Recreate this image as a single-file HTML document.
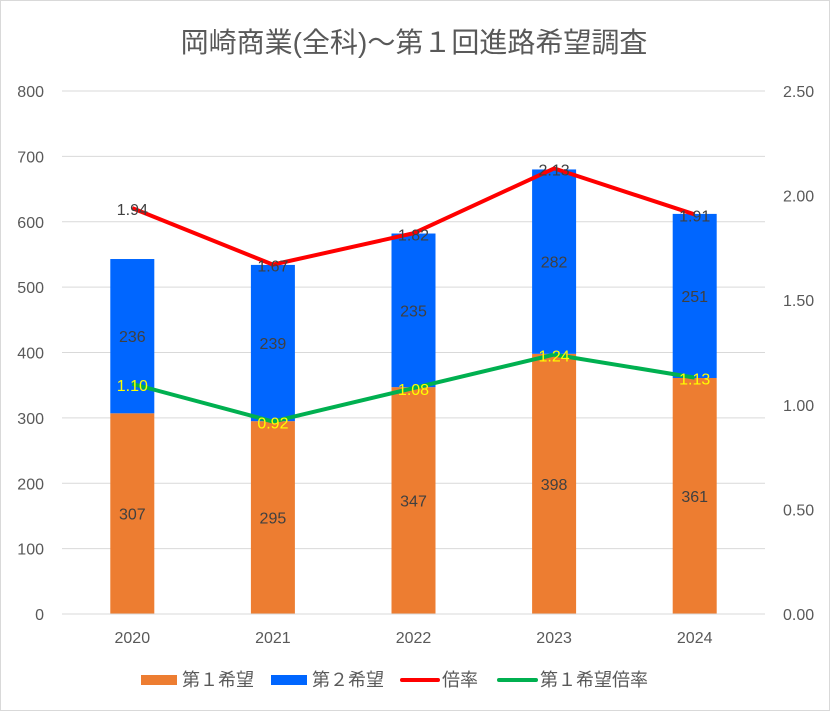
<!DOCTYPE html>
<html><head><meta charset="utf-8"><style>
body{margin:0;background:#fff}
svg{display:block;font-family:"Liberation Sans","Noto Sans CJK JP",sans-serif}
</style></head><body>
<svg id="c" width="830" height="711">
<rect x="0.5" y="0.5" width="829" height="710" fill="#fff" stroke="#d9d9d9"/>
<text x="414" y="52" text-anchor="middle" font-size="28" fill="#595959">岡崎商業(全科)～第１回進路希望調査</text>
<g id="grid"></g><g id="bars"></g><g id="lines"></g><g id="labels"></g><g id="axes"></g>
<g>
<rect x="141" y="675" width="36" height="10" fill="#ed7d31"/>
<text x="182" y="686" font-size="18" fill="#595959">第１希望</text>
<rect x="271" y="675" width="36" height="10" fill="#0066ff"/>
<text x="312" y="686" font-size="18" fill="#595959">第２希望</text>
<line x1="402" y1="680" x2="438" y2="680" stroke="#ff0000" stroke-width="4" stroke-linecap="round"/>
<text x="442" y="686" font-size="18" fill="#595959">倍率</text>
<line x1="499" y1="680" x2="536" y2="680" stroke="#00b050" stroke-width="4" stroke-linecap="round"/>
<text x="540" y="686" font-size="18" fill="#595959">第１希望倍率</text>
</g>
</svg>
<script>
const categories=["2020","2021","2022","2023","2024"];
const first=[307,295,347,398,361];
const second=[236,239,235,282,251];
const ratio=[1.94,1.67,1.82,2.13,1.91];
const firstRatio=[1.10,0.92,1.08,1.24,1.13];
const leftTicks=[0,100,200,300,400,500,600,700,800];
const rightTicks=["0.00","0.50","1.00","1.50","2.00","2.50"];
const NS="http://www.w3.org/2000/svg";
const X0=62,X1=765,Y0=614,Y1=91;
const y=v=>Y0-(v/800)*(Y0-Y1);
const yr=v=>Y0-(v/2.5)*(Y0-Y1);
const bw=(X1-X0)/categories.length;
const x=i=>X0+bw*(i+0.5);
function mk(p,t,a){const e=document.createElementNS(NS,t);for(const k in a)e.setAttribute(k,a[k]);document.getElementById(p).appendChild(e);return e;}
leftTicks.forEach(v=>{
 const l=mk("grid","line",{x1:X0,x2:X1,y1:y(v),y2:y(v),stroke:"#d9d9d9"});
 
 
 const t=mk("axes","text",{x:44,y:y(v)+6,"text-anchor":"end","font-size":16,fill:"#595959"});t.textContent=v;
 
 
});
rightTicks.forEach(v=>{
 const t=mk("axes","text",{x:783,y:yr(+v)+6,"font-size":16,fill:"#595959"});t.textContent=v;
 
 
});
categories.forEach((c,i)=>{
 const t=mk("axes","text",{x:x(i),y:643,"text-anchor":"middle","font-size":16,fill:"#595959"});t.textContent=c;
 
 
 const b1=mk("bars","rect",{x:x(i)-22,width:44,y:y(first[i]),height:Y0-y(first[i]),fill:"#ed7d31"});
 
 
 const top=first[i]+second[i];
 const b2=mk("bars","rect",{x:x(i)-22,width:44,y:y(top),height:y(first[i])-y(top),fill:"#0066ff"});
 
 
 const l1=mk("labels","text",{x:x(i),y:(y(0)+y(first[i]))/2+6,"text-anchor":"middle","font-size":16,fill:"#404040"});l1.textContent=first[i];
 
 
 const l2=mk("labels","text",{x:x(i),y:(y(first[i])+y(top))/2+6,"text-anchor":"middle","font-size":16,fill:"#404040"});l2.textContent=second[i];
 
 
});
mk("axes","line",{x1:X0,x2:X1,y1:Y0,y2:Y0,stroke:"#d9d9d9"});
const p1=mk("lines","polyline",{points:ratio.map((v,i)=>x(i)+","+yr(v)).join(" "),fill:"none",stroke:"#ff0000","stroke-width":4,"stroke-linejoin":"round"});


const p2=mk("lines","polyline",{points:firstRatio.map((v,i)=>x(i)+","+yr(v)).join(" "),fill:"none",stroke:"#00b050","stroke-width":4,"stroke-linejoin":"round"});


categories.forEach((c,i)=>{
 const a=mk("labels","text",{x:x(i),y:yr(ratio[i])+7,"text-anchor":"middle","font-size":16,fill:"#404040"});a.textContent=ratio[i].toFixed(2);
 
 
 const b=mk("labels","text",{x:x(i),y:yr(firstRatio[i])+7,"text-anchor":"middle","font-size":16,fill:"#ffff00"});b.textContent=firstRatio[i].toFixed(2);
 
 
});
</script>
</body></html>
